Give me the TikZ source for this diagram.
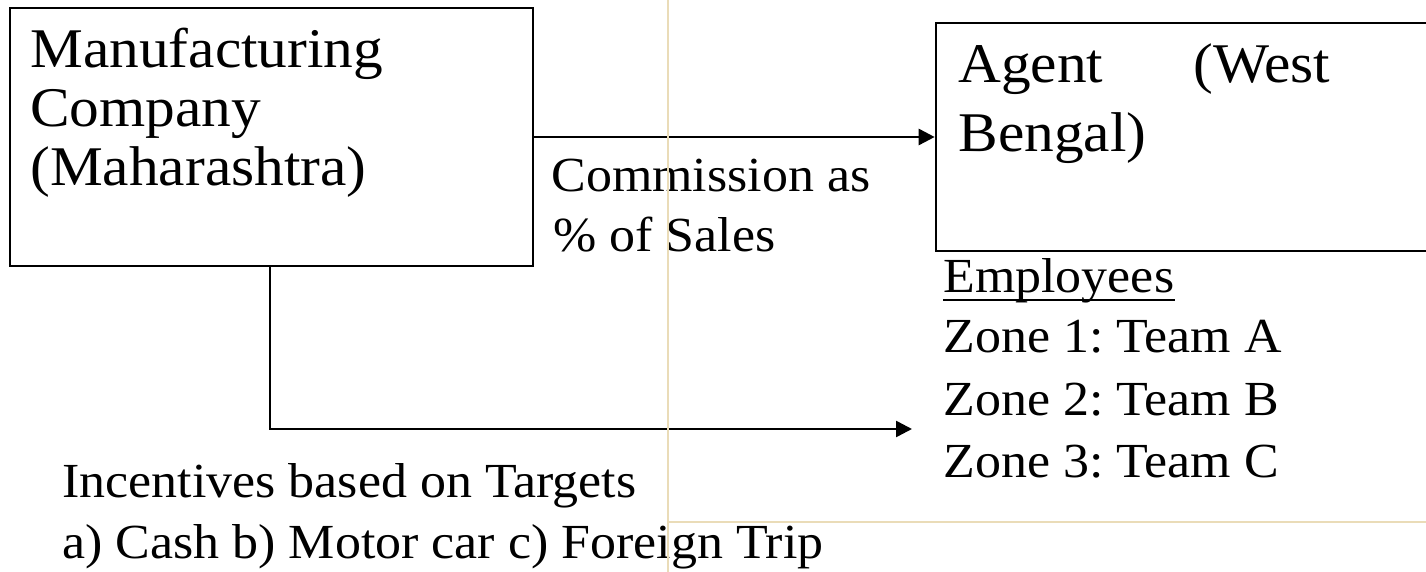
\documentclass[tikz,border=0pt]{standalone}
\usepackage{fontspec}
\setmainfont{Liberation Serif}[FakeStretch=1.06]
\usetikzlibrary{arrows.meta}
\definecolor{faint}{HTML}{EADCB8}
\tikzset{
  boxframe/.style={draw, line width=1.3pt, inner sep=0pt},
  bigtxt/.style={anchor=base west, inner sep=0pt, font=\fontsize{28}{32}\selectfont\frenchspacing},
  midtxt/.style={anchor=base west, inner sep=0pt, font=\fontsize{24.5}{28}\selectfont\frenchspacing},
  conn/.style={line width=1.3pt, -{Triangle[length=8pt,width=8pt]}},
  guide/.style={draw=faint, line width=0.6pt}
}
\begin{document}
\begin{tikzpicture}[x=0.5pt,y=-0.5pt]
\useasboundingbox[fill=white] (0,0) rectangle (1426,572);
% boxes
\node[boxframe, minimum width=261.5pt, minimum height=129pt] (mfg) at (271.5,137) {};
\node[boxframe, minimum width=252pt, minimum height=114pt] (agent) at (1188,137) {};
% box texts
\node[bigtxt] (m1) at (30,68) {Manufacturing};
\node[bigtxt] (m2) at (30,127) {Company};
\node[bigtxt] (m3) at (30,186) {(Maharashtra)};
\node[bigtxt] (a1) at (958,83) {Agent};
\node[bigtxt] (a2) at (1193,83) {(West};
\node[bigtxt] (a3) at (958,152) {Bengal)};
% commission
\node[midtxt] (c1) at (551,192) {Commission as};
\node[midtxt] (c2) at (553,252) {\% of Sales};
% employees
\node[midtxt] (e0) at (943,293) {Employees};
\draw[line width=1.1pt] ([yshift=-3.5pt]e0.base west) -- ([yshift=-3.5pt]e0.base east);
\node[midtxt] (e1) at (943,353) {Zone 1: Team A};
\node[midtxt] (e2) at (943,416) {Zone 2: Team B};
\node[midtxt] (e3) at (943,478) {Zone 3: Team C};
% incentives
\node[midtxt] (i1) at (62,497) {Incentives based on Targets};
\node[midtxt] (i2) at (62,559) {a) Cash b) Motor car c) Foreign Trip};
% connectors
\draw[conn] (mfg.east) -- (agent.west);
\coordinate (bend) at (270,429);
\coordinate (tip) at (912,429);
\draw[conn] (mfg.south -| bend) -- (bend) -- (tip);
% faint guide lines
\draw[guide] (668,0) -- (668,572);
\draw[guide] (668,522) -- (1426,522);
\end{tikzpicture}
\end{document}
